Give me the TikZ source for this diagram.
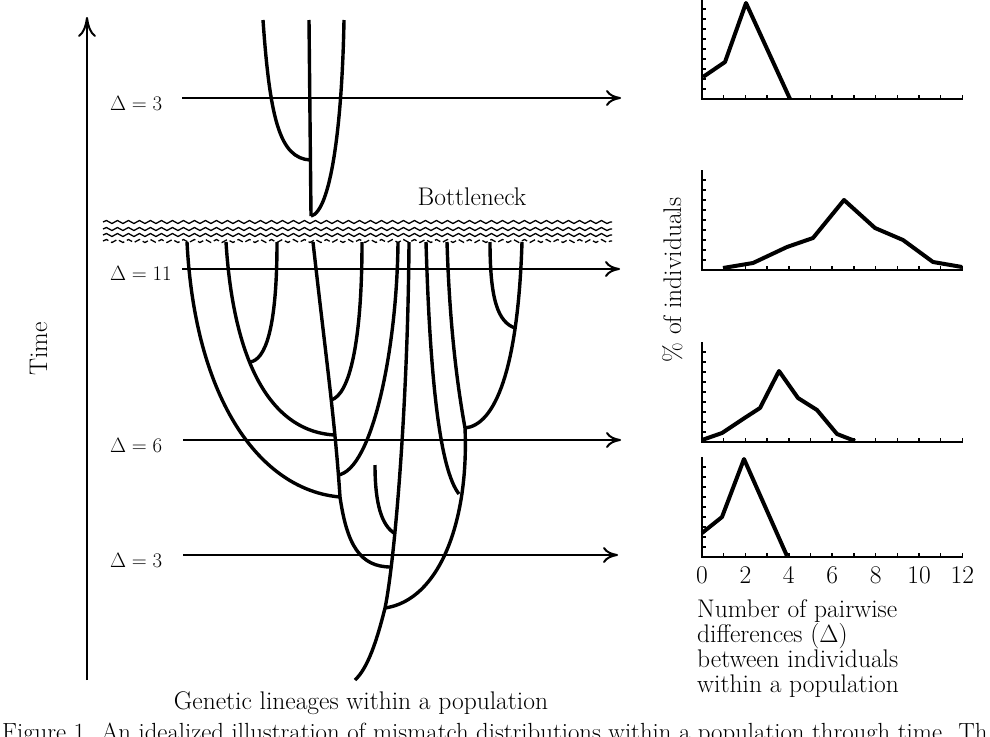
\documentclass[tikz,border=0pt]{standalone}
\usetikzlibrary{arrows.meta,decorations.pathmorphing}
\tikzset{
  lineage/.style={line width=3.4pt},
  harrow/.style={line width=2pt, -{Computer Modern Rightarrow[length=15pt,width=16pt]}},
  timearrow/.style={line width=2pt, -{Computer Modern Rightarrow[length=20pt,width=18pt]}},
  wavyline/.style={line width=1.3pt, decorate, decoration={snake, segment length=11pt, amplitude=1.5pt}},
  axisline/.style={line width=2pt},
  tickmark/.style={line width=1.5pt},
  dataline/.style={line width=4pt, line join=round},
  lbl/.style={font=\fontsize{25.5}{29}\selectfont, inner sep=0pt},
  caplbl/.style={font=\fontsize{24.8}{29}\selectfont, inner sep=0pt},
  dlbl/.style={font=\fontsize{21}{25}\selectfont, inner sep=0pt, anchor=base west},
}
\newcommand\chartaxes[2]{%
  \draw[axisline] (702,#1) -- (702,#2) -- (963,#2);
  \foreach \i in {1,...,12} \draw[tickmark] ({702+21.7*\i},#2) -- ({702+21.7*\i},#2-4);
  \foreach \j in {1,...,9} \draw[tickmark] (702,#2-10*\j) -- (706,#2-10*\j);
}
\begin{document}
\begin{tikzpicture}[x=1pt,y=-1pt]
\useasboundingbox (0,0) rectangle (990,736);

% time axis
\coordinate (tb) at (87,680);
\coordinate (tt) at (87,17);
\draw[timearrow] (tb) -- (tt);
\node[lbl, rotate=90, anchor=base] (time) at (47,349) {Time};

% horizontal arrows
\coordinate (a1s) at (182,98);  \coordinate (a1e) at (621,98);
\coordinate (a2s) at (182,269); \coordinate (a2e) at (620,269);
\coordinate (a3s) at (183,440); \coordinate (a3e) at (621,440);
\coordinate (a4s) at (183,555); \coordinate (a4e) at (618,555);
\draw[harrow] (a1s) -- (a1e);
\draw[harrow] (a2s) -- (a2e);
\draw[harrow] (a3s) -- (a3e);
\draw[harrow] (a4s) -- (a4e);
\node[dlbl] (d1) at (110,110) {$\Delta = 3$};
\node[dlbl] (d2) at (110,280) {$\Delta = 11$};
\node[dlbl] (d3) at (110,452) {$\Delta = 6$};
\node[dlbl] (d4) at (110,567) {$\Delta = 3$};

% bottleneck
\foreach \yy in {222,229,235} \draw[wavyline] (103,\yy) -- (612,\yy);
\draw[wavyline, dash pattern=on 6pt off 3pt] (103,241) -- (612,241);
\node[lbl, anchor=base] (bn) at (472,205) {Bottleneck};

% top lineages
\draw[lineage] (309,20) -- (311,216);
\draw[lineage] (263,20) .. controls (270,120) and (280,158) .. (310,160);
\draw[lineage] (344,20) .. controls (342,130) and (330,212) .. (311,216);

% bottom lineages
\draw[lineage] (187,242) .. controls (195,400) and (260,490) .. (340,497);
\draw[lineage] (226,242) .. controls (232,340) and (260,430) .. (334,435);
\draw[lineage] (277,242) .. controls (277,330) and (265,360) .. (250,362);
\draw[lineage] (313,242) .. controls (325,350) and (335,420) .. (340,497) .. controls (347,545) and (360,567) .. (391,567);
\draw[lineage] (362,242) .. controls (362,340) and (350,395) .. (331,400);
\draw[lineage] (398,242) .. controls (397,350) and (372,470) .. (338,475);
\draw[lineage] (409,242) .. controls (408,400) and (395,560) .. (385,608) .. controls (377,640) and (368,668) .. (355,680);
\draw[lineage] (375,465) .. controls (375,505) and (382,525) .. (394,533);
\draw[lineage] (426,242) .. controls (430,380) and (440,470) .. (459,494);
\draw[lineage] (447,242) .. controls (450,340) and (460,400) .. (465,428) .. controls (469,520) and (440,600) .. (385,608);
\draw[lineage] (522,242) .. controls (518,370) and (495,425) .. (465,428);
\draw[lineage] (490,242) .. controls (490,300) and (498,322) .. (515,328);

\node[lbl, anchor=base] (gl) at (361,709) {Genetic lineages within a population};

% charts
\chartaxes{0}{99}
\chartaxes{170}{270}
\chartaxes{342}{442}
\chartaxes{457}{557}
\draw[dataline] (703,77) -- (725,62) -- (746,3) -- (790,99);
\draw[dataline] (723,268) -- (753,263) -- (787,247) -- (813,238) -- (844,200) -- (875,228) -- (903,240) -- (933,262) -- (962,267);
\draw[dataline] (702,440) -- (722,433) -- (743,419) -- (760,408) -- (779,371) -- (798,398) -- (817,410) -- (837,434) -- (855,441);
\draw[dataline] (702,533) -- (722,517) -- (744,459) -- (787,556);

\node[lbl, rotate=90, anchor=base] (pct) at (681,280) {\% of individuals};

\foreach \v/\n in {0/t0,2/t2,4/t4,6/t6,8/t8,10/t10,12/t12}
  \node[lbl, anchor=base] (\n) at ({702+21.7*\v},583) {\v};

\node[lbl, anchor=base west] (x1) at (697,617) {Number of pairwise};
\node[lbl, anchor=base west] (x2) at (697,642) {differences ($\Delta$)};
\node[lbl, anchor=base west] (x3) at (697,667) {between individuals};
\node[lbl, anchor=base west] (x4) at (697,692) {within a population};

\node[caplbl, anchor=base west] (cap) at (2,740) {Figure 1. An idealized illustration of mismatch distributions within a population through time. Th};
\end{tikzpicture}
\end{document}
